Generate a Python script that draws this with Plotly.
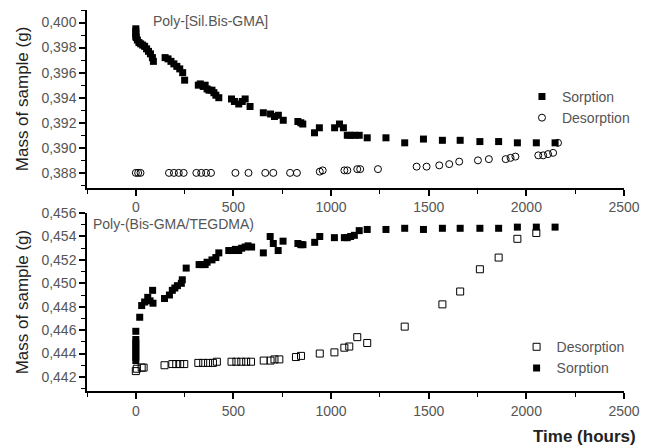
import plotly.graph_objects as go

# ---- Data: top panel Poly-[Sil.Bis-GMA] ----
top_sorp_x = [0, 0, 0, 0, 2, 8, 16, 25, 35, 45, 55, 65, 75, 85, 90,
              150, 165, 180, 195, 210, 225, 240, 250,
              320, 330, 345, 355, 365, 375, 390, 400, 410, 425,
              490, 505, 527, 545, 560, 585,
              653, 690, 710, 730, 755,
              830, 845, 855, 915, 940,
              1018, 1043, 1063, 1083, 1100, 1120, 1144,
              1185, 1281, 1377, 1473, 1570, 1661, 1762, 1858, 1954, 2051, 2147]
top_sorp_y = [0.3995, 0.3993, 0.3991, 0.3989, 0.3988, 0.3986, 0.3984, 0.3983, 0.3982, 0.3981,
              0.3979, 0.3977, 0.3975, 0.3972, 0.3969,
              0.3972, 0.3971, 0.3969, 0.3967, 0.3965, 0.3963, 0.3960, 0.3954,
              0.3950, 0.3951, 0.3949, 0.3950, 0.3947, 0.3946, 0.3946, 0.3944, 0.3942, 0.3940,
              0.3939, 0.3937, 0.3935, 0.3937, 0.3939, 0.3933,
              0.3928, 0.3927, 0.3925, 0.3926, 0.3922,
              0.3921, 0.3920, 0.3919, 0.3912, 0.3916,
              0.3916, 0.3919, 0.3916, 0.3910, 0.3910, 0.3910, 0.3910,
              0.3908, 0.3908, 0.3904, 0.3907, 0.3906, 0.3906, 0.3905, 0.3905, 0.3904, 0.3904, 0.3904]

top_desorp_x = [0, 12, 24, 170, 195, 220, 245, 310, 335, 360, 385, 510, 577, 663, 704, 790, 825,
                942, 957, 1068, 1083, 1134, 1149, 1240, 1438, 1489, 1554, 1605, 1656,
                1752, 1808, 1894, 1919, 1944, 2061, 2086, 2111, 2137, 2162]
top_desorp_y = [0.3880, 0.3880, 0.3880, 0.3880, 0.3880, 0.3880, 0.3880, 0.3880, 0.3880, 0.3880,
                0.3880, 0.3880, 0.3880, 0.3880, 0.3880, 0.3880, 0.3880,
                0.3881, 0.3882, 0.3882, 0.3882, 0.3883, 0.3883, 0.3883, 0.3885, 0.3885,
                0.3886, 0.3887, 0.3889, 0.3890, 0.3891, 0.3891, 0.3892, 0.3893,
                0.3894, 0.3894, 0.3895, 0.3896, 0.3904]

# ---- Data: bottom panel Poly-(Bis-GMA/TEGDMA) ----
bot_sorp_x = [0, 0, 0, 0, 0, 0, 0, 0,
              20, 30, 45, 61, 73, 86, 88,
              147, 172, 187, 200, 213, 233, 238, 258,
              324, 340, 355, 365, 390, 410, 425,
              476, 495, 510, 527, 542, 560, 575, 593,
              653, 688, 704, 729, 754,
              830, 845, 856, 916, 942,
              1017, 1068, 1083, 1100, 1119, 1144,
              1185, 1281, 1377, 1473, 1570, 1661, 1762, 1858, 1954, 2051, 2147]
bot_sorp_y = [0.4434, 0.4437, 0.4440, 0.4443, 0.4446, 0.4449, 0.4452, 0.4459,
              0.4471, 0.4481, 0.4484, 0.4488, 0.4485, 0.4494, 0.4483,
              0.4487, 0.4490, 0.4494, 0.4496, 0.4498, 0.4500, 0.4503, 0.4513,
              0.4516, 0.4516, 0.4516, 0.4518, 0.4520, 0.4522, 0.4526,
              0.4528, 0.4528, 0.4529, 0.4528, 0.4530, 0.4531, 0.4532, 0.4531,
              0.4526, 0.4540, 0.4534, 0.4528, 0.4536,
              0.4534, 0.4533, 0.4533, 0.4535, 0.4540,
              0.4539, 0.4539, 0.4539, 0.4540, 0.4541, 0.4545,
              0.4546, 0.4546, 0.4547, 0.4546, 0.4547, 0.4547, 0.4547, 0.4547, 0.4548, 0.4548, 0.4548]

bot_desorp_x = [0, 5, 30, 40, 147, 187, 207, 227, 248, 320, 345, 370, 395, 415,
                490, 515, 540, 565, 590, 655, 690, 710, 735, 820, 846,
                942, 1017, 1068, 1093, 1134, 1185, 1377, 1570, 1661, 1762, 1858, 1954, 2051]
bot_desorp_y = [0.4425, 0.4427, 0.4428, 0.4428, 0.4430, 0.4431, 0.4431, 0.4431, 0.4431,
                0.4432, 0.4432, 0.4432, 0.4432, 0.4433,
                0.4433, 0.4433, 0.4433, 0.4433, 0.4433, 0.4434, 0.4434, 0.4435, 0.4435,
                0.4437, 0.4438, 0.4440, 0.4441, 0.4445, 0.4446, 0.4454, 0.4449, 0.4463,
                0.4482, 0.4493, 0.4512, 0.4522, 0.4538, 0.4543]

x_ticks = [0, 500, 1000, 1500, 2000, 2500]

FONT = "Liberation Sans, Arial, sans-serif"
MS = 7
TICKCOL = "#555"

fig = go.Figure()

fig.add_trace(go.Scatter(x=top_sorp_x, y=top_sorp_y, mode="markers", name="Sorption",
                         marker=dict(symbol="square", size=MS, color="black"),
                         xaxis="x", yaxis="y", legend="legend"))
fig.add_trace(go.Scatter(x=top_desorp_x, y=top_desorp_y, mode="markers", name="Desorption",
                         marker=dict(symbol="circle-open", size=MS, color="black",
                                     line=dict(width=1, color="black")),
                         xaxis="x", yaxis="y", legend="legend"))
fig.add_trace(go.Scatter(x=bot_desorp_x, y=bot_desorp_y, mode="markers", name="Desorption",
                         marker=dict(symbol="square-open", size=MS, color="black",
                                     line=dict(width=1, color="black")),
                         xaxis="x2", yaxis="y2", legend="legend2"))
fig.add_trace(go.Scatter(x=bot_sorp_x, y=bot_sorp_y, mode="markers", name="Sorption",
                         marker=dict(symbol="square", size=MS, color="black"),
                         xaxis="x2", yaxis="y2", legend="legend2"))

xcommon = dict(range=[-250, 2500], tickvals=x_ticks, showline=True, linecolor="black",
               linewidth=1.5, ticks="outside", ticklen=6, tickwidth=1.5, tickcolor="black",
               showgrid=False, zeroline=False, automargin=False,
               minor=dict(ticks="outside", ticklen=4, tickwidth=1, tickcolor="black", dtick=250, tick0=0),
               tickfont=dict(family=FONT, size=14, color=TICKCOL))
ycommon = dict(showline=True, linecolor="black", linewidth=1.5, ticks="outside", ticklen=6,
               tickwidth=1.5, tickcolor="black", showgrid=False, zeroline=False, automargin=False,
               dtick=0.002, tickformat=".3f",
               minor=dict(ticks="outside", ticklen=4, tickwidth=1, tickcolor="black", dtick=0.001),
               tickfont=dict(family=FONT, size=14, color=TICKCOL),
               title=dict(text="Mass of sample (g)", font=dict(family=FONT, size=17, color="#222"),
                          standoff=8))

fig.update_layout(
    width=645, height=446,
    margin=dict(l=87, r=16, t=10, b=55),
    paper_bgcolor="white", plot_bgcolor="white",
    separators=", ",
    xaxis=dict(domain=[0, 1], anchor="y", **xcommon),
    yaxis=dict(domain=[0.533, 1.0], anchor="x", range=[0.3868, 0.4010], tick0=0.388, **ycommon),
    xaxis2=dict(domain=[0, 1], anchor="y2", **xcommon),
    yaxis2=dict(domain=[0.0, 0.467], anchor="x2", range=[0.4408, 0.4560], tick0=0.442, **ycommon),
    legend=dict(x=0.81, y=0.814, xanchor="left", yanchor="top", bgcolor="rgba(0,0,0,0)",
                font=dict(family=FONT, size=14, color=TICKCOL), tracegroupgap=0, itemwidth=30),
    legend2=dict(x=0.80, y=0.157, xanchor="left", yanchor="top", bgcolor="rgba(0,0,0,0)",
                 font=dict(family=FONT, size=14, color=TICKCOL), tracegroupgap=0, itemwidth=30),
    annotations=[
        dict(text="Poly-[Sil.Bis-GMA]", xref="paper", yref="paper", x=0.12, y=0.997,
             xanchor="left", yanchor="top", showarrow=False,
             font=dict(family=FONT, size=14, color=TICKCOL)),
        dict(text="Poly-(Bis-GMA/TEGDMA)", xref="paper", yref="paper", x=0.008, y=0.465,
             xanchor="left", yanchor="top", showarrow=False,
             font=dict(family=FONT, size=14, color=TICKCOL)),
        dict(text="<b>Time (hours)</b>", xref="paper", yref="paper", x=1.027, y=-0.088,
             xanchor="right", yanchor="top", showarrow=False,
             font=dict(family=FONT, size=17, color="#222")),
    ],
)

fig.write_html("out.html", config={"displayModeBar": False},
               post_script="document.body.style.margin='0';document.body.style.overflow='hidden';")
